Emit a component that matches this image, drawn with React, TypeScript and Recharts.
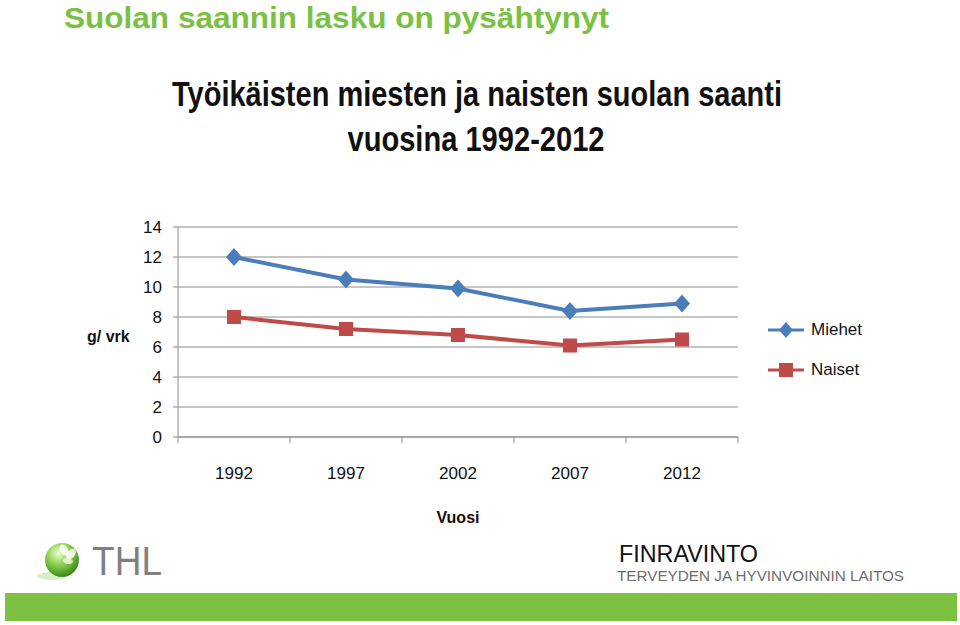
import { LineChart, Line, XAxis, YAxis, CartesianGrid, Legend } from 'recharts';

const years = ['1992', '1997', '2002', '2007', '2012'];
const miehet = [12.0, 10.5, 9.9, 8.4, 8.9];
const naiset = [8.0, 7.2, 6.8, 6.1, 6.5];
const yTicks = [0, 2, 4, 6, 8, 10, 12, 14];

const data = years.map((year, i) => ({ year, Miehet: miehet[i], Naiset: naiset[i] }));

const BLUE = '#4a7ebb';
const RED = '#be4b48';
const GREEN = '#7ac143';
const AXIS = '#8c8c8c';
const FONT = '"Liberation Sans", Arial, sans-serif';

const Diamond = (props: any) => {
  const { cx, cy } = props;
  if (cx == null || cy == null) return null;
  return (
    <polygon
      key={props.key}
      points={`${cx},${cy - 9} ${cx + 8},${cy} ${cx},${cy + 9} ${cx - 8},${cy}`}
      fill={BLUE}
    />
  );
};

const Square = (props: any) => {
  const { cx, cy } = props;
  if (cx == null || cy == null) return null;
  return <rect key={props.key} x={cx - 7} y={cy - 7} width={14} height={14} fill={RED} />;
};

// category labels in the middle, tick marks on the band edges
const XTick = (props: any) => {
  const { x, y, payload, index } = props;
  const half = payload.offset || 0;
  return (
    <g>
      <line x1={x - half} x2={x - half} y1={y} y2={y + 6} stroke={AXIS} />
      {index === years.length - 1 && <line x1={x + half} x2={x + half} y1={y} y2={y + 6} stroke={AXIS} />}
      <text x={x} y={y + 42} textAnchor="middle" fontSize={17} fill="#111" fontFamily={FONT}>
        {payload.value}
      </text>
    </g>
  );
};

const LegendContent = (props: any) => {
  const items = props.payload || [];
  return (
    <div style={{ fontFamily: FONT, fontSize: 17, color: '#111' }}>
      {items.map((item: any) => (
        <div key={item.value} style={{ display: 'flex', alignItems: 'center', height: 20, marginBottom: 20 }}>
          <svg width={42} height={20}>
            <line x1={2} x2={38} y1={10} y2={10} stroke={item.color} strokeWidth={3} />
            {item.dataKey === 'Miehet' ? (
              <polygon points="20,2 27,10 20,18 13,10" fill={item.color} />
            ) : (
              <rect x={13} y={3} width={14} height={14} fill={item.color} />
            )}
          </svg>
          <span style={{ marginLeft: 3 }}>{item.value}</span>
        </div>
      ))}
    </div>
  );
};

export default function App() {
  return (
    <div style={{ position: 'absolute', left: 0, top: 0, width: 960, height: 625, background: '#fff' }}>
      <LineChart
        width={960}
        height={625}
        data={data}
        margin={{ top: 227, right: 222, left: 78, bottom: 88 }}
      >
        <CartesianGrid vertical={false} stroke={AXIS} strokeWidth={1} />
        <XAxis
          dataKey="year"
          scale="band"
          height={100}
          axisLine={{ stroke: AXIS }}
          tickLine={false}
          tickSize={0}
          tickMargin={0}
          tick={<XTick />}
          interval={0}
          label={{ value: 'Vuosi', position: 'insideBottom', offset: 14, fontSize: 16, fontWeight: 'bold', fill: '#111', fontFamily: FONT }}
        />
        <YAxis
          domain={[0, 14]}
          ticks={yTicks}
          width={100}
          axisLine={{ stroke: AXIS }}
          tickLine={{ stroke: AXIS }}
          tickSize={5}
          tickMargin={11}
          tick={{ fontSize: 17, fill: '#111', fontFamily: FONT }}
          label={{ value: 'g/ vrk', position: 'insideLeft', offset: 9, dy: 4, fontSize: 16, fontWeight: 'bold', fill: '#111', fontFamily: FONT }}
        />
        <Legend
          layout="vertical"
          align="center"
          verticalAlign="middle"
          content={<LegendContent />}
          wrapperStyle={{ left: 766, top: 320, width: 120 }}
        />
        <Line
          dataKey="Miehet"
          stroke={BLUE}
          strokeWidth={4}
          dot={Diamond}
          activeDot={false}
          isAnimationActive={false}
        />
        <Line
          dataKey="Naiset"
          stroke={RED}
          strokeWidth={4}
          dot={Square}
          activeDot={false}
          isAnimationActive={false}
        />
      </LineChart>

      <svg width={960} height={625} style={{ position: 'absolute', left: 0, top: 0, pointerEvents: 'none' }}>
        <defs>
          <radialGradient id="sphere" cx="40%" cy="30%" r="75%">
            <stop offset="0%" stopColor="#e8ffd0" />
            <stop offset="45%" stopColor="#8fd14f" />
            <stop offset="100%" stopColor="#2f7f14" />
          </radialGradient>
        </defs>
        <text x={64} y={28} fontSize={30} fontWeight="bold" fill={GREEN} fontFamily={FONT} textLength={545} lengthAdjust="spacingAndGlyphs">
          Suolan saannin lasku on pysähtynyt
        </text>
        <text x={477} y={106} fontSize={35} fontWeight="bold" fill="#111" fontFamily={FONT} textAnchor="middle" textLength={610} lengthAdjust="spacingAndGlyphs">
          Työikäisten miesten ja naisten suolan saanti
        </text>
        <text x={476} y={151} fontSize={35} fontWeight="bold" fill="#111" fontFamily={FONT} textAnchor="middle" textLength={257} lengthAdjust="spacingAndGlyphs">
          vuosina 1992-2012
        </text>

        <ellipse cx={52} cy={576} rx={15} ry={4} fill="#cfe8b8" opacity={0.8} />
        <circle cx={62} cy={560} r={17} fill="url(#sphere)" />
        <ellipse cx={64} cy={550} rx={4} ry={6} fill="#fff" opacity={0.85} transform="rotate(-30 64 550)" />
        <ellipse cx={71} cy={554} rx={4} ry={6} fill="#fff" opacity={0.85} transform="rotate(40 71 554)" />
        <ellipse cx={68} cy={561} rx={3} ry={5} fill="#fff" opacity={0.7} transform="rotate(100 68 561)" />
        <text x={92} y={575} fontSize={41} fill="#808080" fontFamily={FONT} textLength={70} lengthAdjust="spacingAndGlyphs">
          THL
        </text>

        <text x={619} y={562} fontSize={24} fill="#111" fontFamily={FONT} textLength={139} lengthAdjust="spacingAndGlyphs">
          FINRAVINTO
        </text>
        <text x={617} y={581} fontSize={15} fill="#6d6d6d" fontFamily={FONT} textLength={287} lengthAdjust="spacingAndGlyphs">
          TERVEYDEN JA HYVINVOINNIN LAITOS
        </text>

        <rect x={5} y={593} width={952} height={28} fill="#7cc142" />
      </svg>
    </div>
  );
}
